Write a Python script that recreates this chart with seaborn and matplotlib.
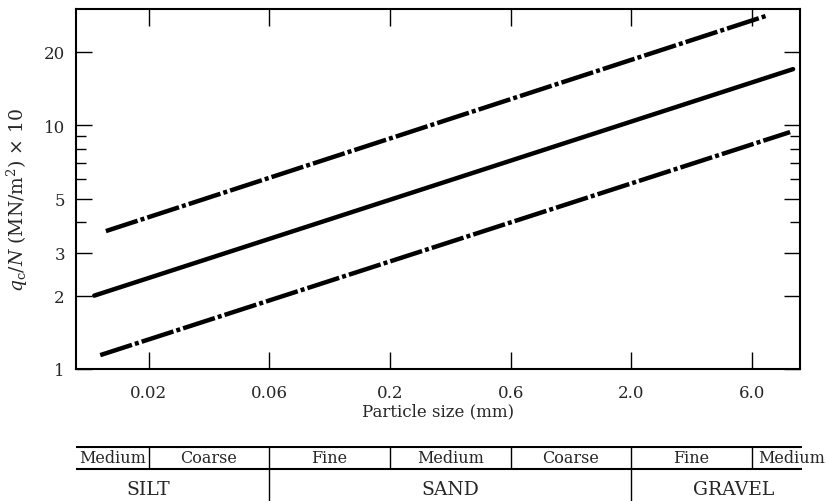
import numpy as np
import pandas as pd
import matplotlib
matplotlib.use("Agg")
import matplotlib.pyplot as plt
from matplotlib.ticker import NullFormatter, NullLocator
import seaborn as sns

# ==============================================================================
# qc/N against particle size, with the soil grading bar underneath
# ==============================================================================

# the three trend lines (end points)
mid_x = [0.0119, 9.36]
mid_y = [2.0, 17.0]
upper_x = [0.0133, 7.23]
upper_y = [3.68, 28.1]
lower_x = [0.0126, 9.1]
lower_y = [1.14, 9.38]

# axes ticks
x_tick_pos = [0.02, 0.0632, 0.2, 0.632, 2.0, 6.32]
x_tick_labels = ["0.02", "0.06", "0.2", "0.6", "2.0", "6.0"]
y_tick_pos = [1, 2, 3, 5, 10, 20]
y_tick_labels = ["1", "2", "3", "5", "10", "20"]
y_minor_pos = [4, 6, 7, 8, 9]

# grading bar
sub_labels = ["Medium", "Coarse", "Fine", "Medium", "Coarse", "Fine", "Medium"]
sub_bounds = x_tick_pos
main_labels = ["SILT", "SAND", "GRAVEL"]
main_label_x = [0.02, 0.356, 5.3]
main_bounds = [0.0632, 2.0]

xlim = (0.01, 10.0)
ylim = (1.0, 30.0)

sns.set_theme(style="ticks")
plt.rcParams['font.family'] = ['DejaVu Serif']
plt.rcParams['mathtext.fontset'] = 'dejavuserif'

fig = plt.figure(figsize=(8.28, 5.02), dpi=100)
ax = fig.add_axes([76 / 828, 1 - 370 / 502, 724 / 828, 360 / 502])

lines = pd.DataFrame({
    "x": mid_x + upper_x + lower_x,
    "y": mid_y + upper_y + lower_y,
    "line": ["mid"] * 2 + ["upper"] * 2 + ["lower"] * 2,
})
dashdot = (0, (7.5, 0.7, 0.9, 0.7))
styles = {"mid": "-", "upper": dashdot, "lower": dashdot}
for name, grp in lines.groupby("line"):
    sns.lineplot(data=grp, x="x", y="y", ax=ax, color="black",
                 lw=3.2, linestyle=styles[name], solid_capstyle="round")

ax.set_xscale("log")
ax.set_yscale("log")
ax.set_xlim(*xlim)
ax.set_ylim(*ylim)

ax.set_xticks(x_tick_pos, x_tick_labels)
ax.xaxis.set_minor_locator(NullLocator())
ax.set_yticks(y_tick_pos, y_tick_labels)
ax.set_yticks(y_minor_pos, minor=True)
ax.yaxis.set_minor_formatter(NullFormatter())

ax.tick_params(which="both", direction="in", top=True, right=True,
               color="black", labelsize=12, width=1.0)
ax.tick_params(axis="x", which="major", length=12, pad=11)
ax.tick_params(axis="y", which="major", length=11.5, pad=8)
ax.tick_params(axis="y", which="minor", length=7.5)
for sp in ax.spines.values():
    sp.set_linewidth(1.5)
    sp.set_color("black")

ax.set_xlabel("Particle size (mm)", fontsize=12, labelpad=1)
ax.set_ylabel(r"$q_{\mathrm{c}}/N$ (MN/m$^2$) $\times$ 10", fontsize=13.5)
ax.yaxis.set_label_coords(-0.063, 0.472)

# grading bar below the plot
tb = fig.add_axes([76 / 828, 0, 726 / 828, 55 / 502])
tb.set_xscale("log")
tb.set_xlim(xlim[0], xlim[0] * (xlim[1] / xlim[0]) ** (726 / 724))
tb.set_ylim(0, 55)
tb.axis("off")

tb.hlines([55 - 0.8, 32], xlim[0], tb.get_xlim()[1], color="black", lw=1.5)
tb.vlines(sub_bounds, 32, 55, color="black", lw=1.0)
tb.vlines(main_bounds, 0, 32, color="black", lw=1.0)

cell_edges = [xlim[0]] + list(sub_bounds) + [tb.get_xlim()[1]]
for i, lab in enumerate(sub_labels):
    if i == len(sub_labels) - 1:
        tb.text(cell_edges[i] * 1.06, 43.5, lab, ha="left", va="center", fontsize=11.5)
    else:
        cx = np.sqrt(cell_edges[i] * cell_edges[i + 1])
        tb.text(cx, 43.5, lab, ha="center", va="center", fontsize=11.5)

for lab, x in zip(main_labels, main_label_x):
    tb.text(x, 12, lab, ha="center", va="center", fontsize=13.5)

fig.savefig("out.png", dpi=100)
